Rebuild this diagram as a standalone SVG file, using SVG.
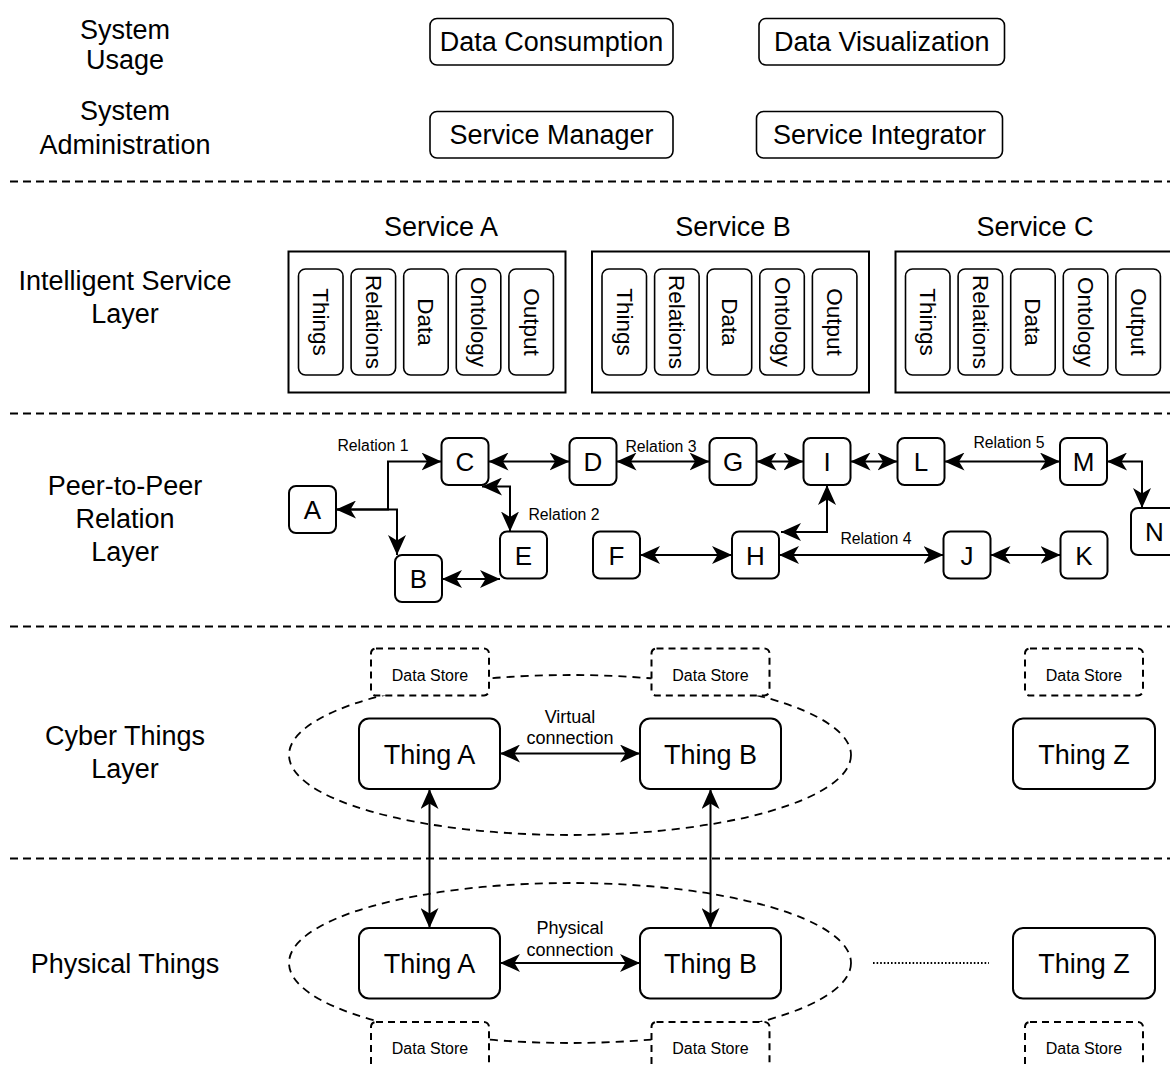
<svg xmlns="http://www.w3.org/2000/svg" width="1170" height="1066" viewBox="0 0 1170 1066">
  <style>
    text { font-family: "Liberation Sans", Arial, Helvetica, sans-serif; fill: #000; }
    .layer { font-size: 27px; text-anchor: middle; }
    .big { font-size: 27px; text-anchor: middle; }
    .pill-t { font-size: 22.5px; text-anchor: middle; dominant-baseline: central; }
    .node-t { font-size: 26px; text-anchor: middle; }
    .rel { font-size: 15.8px; text-anchor: middle; }
    .ds-t { font-size: 16px; text-anchor: middle; }
    .conn-t { font-size: 18px; text-anchor: middle; }
    .box { fill: #fff; stroke: #000; stroke-width: 1.6; }
    .svc { fill: #fff; stroke: #000; stroke-width: 2; }
    .pill { fill: #fff; stroke: #000; stroke-width: 1.6; }
    .node { fill: #fff; stroke: #000; stroke-width: 2; }
    .thing { fill: #fff; stroke: #000; stroke-width: 2; }
    .store { fill: #fff; stroke: #000; stroke-width: 2; stroke-dasharray: 7 5; }
    .sep { fill: none; stroke: #000; stroke-width: 2; stroke-dasharray: 8 5; }
    .zone { fill: none; stroke: #000; stroke-width: 1.8; stroke-dasharray: 8 6; }
    .edge { fill: none; stroke: #000; stroke-width: 2; marker-start: url(#arr); marker-end: url(#arr); }
    .edge-end { fill: none; stroke: #000; stroke-width: 2; marker-end: url(#arr); }
    .dots { fill: none; stroke: #000; stroke-width: 1.8; stroke-dasharray: 1.6 2; }
  </style>
  <defs>
    <!-- classic notched arrowhead shared by every connector -->
    <marker id="arr" viewBox="0 0 20 18" refX="20" refY="9" markerWidth="20" markerHeight="18" markerUnits="userSpaceOnUse" orient="auto-start-reverse">
      <path d="M0,0 L20,9 L0,18 L5.5,9 Z" fill="#000"/>
    </marker>
  </defs>

  <rect width="1170" height="1066" fill="#fff"/>

  <!-- layer separators -->
  <g id="separators">
    <line class="sep" x1="10" y1="181.5" x2="1170" y2="181.5"/>
    <line class="sep" x1="10" y1="413.5" x2="1170" y2="413.5"/>
    <line class="sep" x1="10" y1="626.5" x2="1170" y2="626.5"/>
    <line class="sep" x1="10" y1="858.5" x2="1170" y2="858.5"/>
  </g>

  <!-- layer titles -->
  <g id="layer-labels">
    <text class="layer" x="125" y="38.5">System</text>
    <text class="layer" x="125" y="69">Usage</text>
    <text class="layer" x="125" y="120">System</text>
    <text class="layer" x="125" y="154">Administration</text>
    <text class="layer" x="125" y="290">Intelligent Service</text>
    <text class="layer" x="125" y="323">Layer</text>
    <text class="layer" x="125" y="495">Peer-to-Peer</text>
    <text class="layer" x="125" y="528">Relation</text>
    <text class="layer" x="125" y="561">Layer</text>
    <text class="layer" x="125" y="745">Cyber Things</text>
    <text class="layer" x="125" y="778">Layer</text>
    <text class="layer" x="125" y="973">Physical Things</text>
  </g>

  <!-- system usage / administration -->
  <g id="data-consumption">
    <rect class="box" x="430" y="18.5" width="243" height="46.5" rx="7"/>
    <text class="big" x="551.5" y="51">Data Consumption</text>
  </g>
  <g id="data-visualization">
    <rect class="box" x="759" y="18.5" width="245.5" height="46.5" rx="7"/>
    <text class="big" x="881.75" y="51">Data Visualization</text>
  </g>
  <g id="service-manager">
    <rect class="box" x="430" y="111.5" width="243" height="46.5" rx="7"/>
    <text class="big" x="551.5" y="144">Service Manager</text>
  </g>
  <g id="service-integrator">
    <rect class="box" x="756.5" y="111.5" width="246" height="46.5" rx="7"/>
    <text class="big" x="879.5" y="144">Service Integrator</text>
  </g>

  <!-- intelligent services -->
  <g id="service-a">
    <text class="big" x="441" y="236">Service A</text>
    <g transform="translate(288.5,0)">
      <rect class="svc" x="0" y="251.5" width="277" height="141"/>
      <rect class="pill" x="10" y="269" width="44.5" height="106" rx="7"/>
      <rect class="pill" x="62.6" y="269" width="44.5" height="106" rx="7"/>
      <rect class="pill" x="115.2" y="269" width="44.5" height="106" rx="7"/>
      <rect class="pill" x="167.8" y="269" width="44.5" height="106" rx="7"/>
      <rect class="pill" x="220.4" y="269" width="44.5" height="106" rx="7"/>
      <text class="pill-t" x="32.25" y="322" transform="rotate(90 32.25 322)">Things</text>
      <text class="pill-t" x="84.85" y="322" transform="rotate(90 84.85 322)">Relations</text>
      <text class="pill-t" x="137.45" y="322" transform="rotate(90 137.45 322)">Data</text>
      <text class="pill-t" x="190.05" y="322" transform="rotate(90 190.05 322)">Ontology</text>
      <text class="pill-t" x="242.65" y="322" transform="rotate(90 242.65 322)">Output</text>
    </g>
  </g>
  <g id="service-b">
    <text class="big" x="733" y="236">Service B</text>
    <g transform="translate(592,0)">
      <rect class="svc" x="0" y="251.5" width="277" height="141"/>
      <rect class="pill" x="10" y="269" width="44.5" height="106" rx="7"/>
      <rect class="pill" x="62.6" y="269" width="44.5" height="106" rx="7"/>
      <rect class="pill" x="115.2" y="269" width="44.5" height="106" rx="7"/>
      <rect class="pill" x="167.8" y="269" width="44.5" height="106" rx="7"/>
      <rect class="pill" x="220.4" y="269" width="44.5" height="106" rx="7"/>
      <text class="pill-t" x="32.25" y="322" transform="rotate(90 32.25 322)">Things</text>
      <text class="pill-t" x="84.85" y="322" transform="rotate(90 84.85 322)">Relations</text>
      <text class="pill-t" x="137.45" y="322" transform="rotate(90 137.45 322)">Data</text>
      <text class="pill-t" x="190.05" y="322" transform="rotate(90 190.05 322)">Ontology</text>
      <text class="pill-t" x="242.65" y="322" transform="rotate(90 242.65 322)">Output</text>
    </g>
  </g>
  <g id="service-c">
    <text class="big" x="1035" y="236">Service C</text>
    <g transform="translate(895.5,0)">
      <rect class="svc" x="0" y="251.5" width="277" height="141"/>
      <rect class="pill" x="10" y="269" width="44.5" height="106" rx="7"/>
      <rect class="pill" x="62.6" y="269" width="44.5" height="106" rx="7"/>
      <rect class="pill" x="115.2" y="269" width="44.5" height="106" rx="7"/>
      <rect class="pill" x="167.8" y="269" width="44.5" height="106" rx="7"/>
      <rect class="pill" x="220.4" y="269" width="44.5" height="106" rx="7"/>
      <text class="pill-t" x="32.25" y="322" transform="rotate(90 32.25 322)">Things</text>
      <text class="pill-t" x="84.85" y="322" transform="rotate(90 84.85 322)">Relations</text>
      <text class="pill-t" x="137.45" y="322" transform="rotate(90 137.45 322)">Data</text>
      <text class="pill-t" x="190.05" y="322" transform="rotate(90 190.05 322)">Ontology</text>
      <text class="pill-t" x="242.65" y="322" transform="rotate(90 242.65 322)">Output</text>
    </g>
  </g>

  <!-- thing groupings (drawn under stores and things) -->
  <g id="zones">
    <ellipse class="zone" cx="570" cy="755" rx="281" ry="80"/>
    <ellipse class="zone" cx="570" cy="963" rx="281" ry="80"/>
  </g>

  <!-- connectors -->
  <g id="connectors">
    <path class="edge" d="M336,509.5 H388 V461.5 H441.5"/>
    <path class="edge-end" d="M336,509.5 H397 V555"/>
    <path class="edge" d="M488.5,461.5 H569.5"/>
    <path class="edge" d="M510,531.5 V486.5 H482"/>
    <path class="edge" d="M442,579 H500"/>
    <path class="edge" d="M616.5,461.5 H709.5"/>
    <path class="edge" d="M756.5,461.5 H803.5"/>
    <path class="edge" d="M850.5,461.5 H897.5"/>
    <path class="edge" d="M944.5,461.5 H1060"/>
    <path class="edge" d="M1107,461.5 H1142 V508"/>
    <path class="edge" d="M640,555 H732"/>
    <path class="edge" d="M781,532 H827 V485"/>
    <path class="edge" d="M779,555 H943.5"/>
    <path class="edge" d="M990.5,555 H1060.5"/>
    <path class="edge" d="M500,753.5 H640"/>
    <path class="edge" d="M500,963 H640"/>
    <path class="edge" d="M429.5,789 V928"/>
    <path class="edge" d="M710.5,789 V928"/>
    <path class="dots" d="M873,963 H989"/>
  </g>

  <!-- relation labels -->
  <g id="relation-labels">
    <text class="rel" x="373" y="450.5">Relation 1</text>
    <text class="rel" x="564" y="519.5">Relation 2</text>
    <text class="rel" x="661" y="451.5">Relation 3</text>
    <text class="rel" x="876" y="543.5">Relation 4</text>
    <text class="rel" x="1009" y="447.5">Relation 5</text>
  </g>

  <!-- peer-to-peer relation nodes -->
  <g id="node-a"><rect class="node" x="289" y="486" width="47" height="47" rx="7"/><text class="node-t" x="312.5" y="519">A</text></g>
  <g id="node-b"><rect class="node" x="395" y="555" width="47" height="47" rx="7"/><text class="node-t" x="418.5" y="588">B</text></g>
  <g id="node-c"><rect class="node" x="441.5" y="438" width="47" height="47" rx="7"/><text class="node-t" x="465" y="471">C</text></g>
  <g id="node-d"><rect class="node" x="569.5" y="438" width="47" height="47" rx="7"/><text class="node-t" x="593" y="471">D</text></g>
  <g id="node-e"><rect class="node" x="500" y="531.5" width="47" height="47" rx="7"/><text class="node-t" x="523.5" y="564.5">E</text></g>
  <g id="node-f"><rect class="node" x="593" y="531.5" width="47" height="47" rx="7"/><text class="node-t" x="616.5" y="564.5">F</text></g>
  <g id="node-g"><rect class="node" x="709.5" y="438" width="47" height="47" rx="7"/><text class="node-t" x="733" y="471">G</text></g>
  <g id="node-h"><rect class="node" x="732" y="531.5" width="47" height="47" rx="7"/><text class="node-t" x="755.5" y="564.5">H</text></g>
  <g id="node-i"><rect class="node" x="803.5" y="438" width="47" height="47" rx="7"/><text class="node-t" x="827" y="471">I</text></g>
  <g id="node-l"><rect class="node" x="897.5" y="438" width="47" height="47" rx="7"/><text class="node-t" x="921" y="471">L</text></g>
  <g id="node-j"><rect class="node" x="943.5" y="531.5" width="47" height="47" rx="7"/><text class="node-t" x="967" y="564.5">J</text></g>
  <g id="node-k"><rect class="node" x="1060.5" y="531.5" width="47" height="47" rx="7"/><text class="node-t" x="1084" y="564.5">K</text></g>
  <g id="node-m"><rect class="node" x="1060" y="438" width="47" height="47" rx="7"/><text class="node-t" x="1083.5" y="471">M</text></g>
  <g id="node-n"><rect class="node" x="1131" y="508" width="47" height="47" rx="7"/><text class="node-t" x="1154.5" y="541">N</text></g>

  <!-- cyber things -->
  <g id="cyber-store-a"><rect class="store" x="371" y="648.5" width="118" height="47" rx="5"/><text class="ds-t" x="430" y="680.5">Data Store</text></g>
  <g id="cyber-store-b"><rect class="store" x="651.5" y="648.5" width="118" height="47" rx="5"/><text class="ds-t" x="710.5" y="680.5">Data Store</text></g>
  <g id="cyber-store-z"><rect class="store" x="1025" y="648.5" width="118" height="47" rx="5"/><text class="ds-t" x="1084" y="680.5">Data Store</text></g>
  <g id="cyber-thing-a"><rect class="thing" x="359" y="718.5" width="141" height="70.5" rx="10"/><text class="big" x="429.5" y="763.5">Thing A</text></g>
  <g id="cyber-thing-b"><rect class="thing" x="640" y="718.5" width="141" height="70.5" rx="10"/><text class="big" x="710.5" y="763.5">Thing B</text></g>
  <g id="cyber-thing-z"><rect class="thing" x="1013" y="718.5" width="142" height="70.5" rx="10"/><text class="big" x="1084" y="763.5">Thing Z</text></g>
  <g id="virtual-label">
    <text class="conn-t" x="570" y="722.5">Virtual</text>
    <text class="conn-t" x="570" y="743.5">connection</text>
  </g>

  <!-- physical things -->
  <g id="phys-thing-a"><rect class="thing" x="359" y="928" width="141" height="70.5" rx="10"/><text class="big" x="429.5" y="973">Thing A</text></g>
  <g id="phys-thing-b"><rect class="thing" x="640" y="928" width="141" height="70.5" rx="10"/><text class="big" x="710.5" y="973">Thing B</text></g>
  <g id="phys-thing-z"><rect class="thing" x="1013" y="928" width="142" height="70.5" rx="10"/><text class="big" x="1084" y="973">Thing Z</text></g>
  <g id="phys-store-a"><rect class="store" x="371" y="1022" width="118" height="47" rx="5"/><text class="ds-t" x="430" y="1054">Data Store</text></g>
  <g id="phys-store-b"><rect class="store" x="651.5" y="1022" width="118" height="47" rx="5"/><text class="ds-t" x="710.5" y="1054">Data Store</text></g>
  <g id="phys-store-z"><rect class="store" x="1025" y="1022" width="118" height="47" rx="5"/><text class="ds-t" x="1084" y="1054">Data Store</text></g>
  <g id="physical-label">
    <text class="conn-t" x="570" y="933.5">Physical</text>
    <text class="conn-t" x="570" y="955.5">connection</text>
  </g>
</svg>
